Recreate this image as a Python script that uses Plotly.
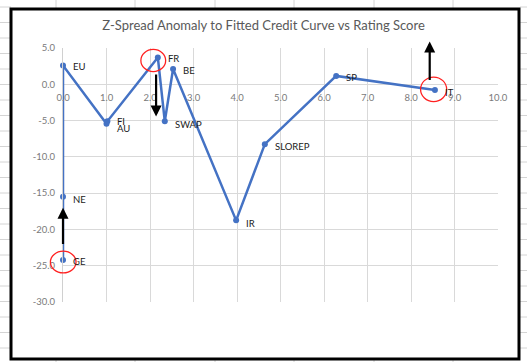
import plotly.graph_objects as go

# ---- data ----
names = ["GE", "NE", "EU", "AU", "FI", "FR", "SWAP", "BE", "IR", "SLOREP", "SP", "IT"]
rating_score = [0.0, 0.0, 0.0, 1.0, 1.02, 2.18, 2.34, 2.53, 3.98, 4.64, 6.28, 8.55]
z_anomaly = [-24.2, -15.5, 2.6, -5.45, -5.1, 3.7, -5.1, 2.1, -18.75, -8.25, 1.15, -0.8]
label_yshift = [-2, -3, -1, -5, 0, -1, -3, -1, -3, -2, -2, -2]

x_ticks = [0, 1, 2, 3, 4, 5, 6, 7, 8, 9, 10]
x_ticktext = ["0.0", "1.0", "2.0", "3.0", "4.0", "5.0", "6.0", "7.0", "8.0", "9.0", "10.0"]
y_ticks = [5, 0, -5, -10, -15, -20, -25, -30]
y_ticktext = ["5.0", "0.0", "-5.0", "-10.0", "-15.0", "-20.0", "-25.0", "-30.0"]

# arrows: (x, tail_y, head_y)
arrows = [(2.14, 1.55, -4.45), (8.43, 0.4, 5.9), (0.0, -22.2, -17.0)]
# red ellipses: (x0, x1, y0, y1) in data units
circles = [(1.79, 2.36, 1.75, 4.8), (8.22, 8.82, -2.4, 1.0), (-0.29, 0.30, -26.0, -23.0)]

X_RANGE = [0, 10]
Y_RANGE = [-30, 5]

W, H = 527, 362
ML, MR, MT, MB = 63, 29, 48, 60
PW, PH = W - ML - MR, H - MT - MB


def px(xp):
    return (xp - ML) / PW


def py(yp):
    return (H - MB - yp) / PH


def dx(v):
    return (v - X_RANGE[0]) / (X_RANGE[1] - X_RANGE[0])


def dy(v):
    return (v - Y_RANGE[0]) / (Y_RANGE[1] - Y_RANGE[0])


FONT = "Lato, 'Open Sans', sans-serif"

fig = go.Figure()
fig.add_trace(go.Scatter(
    x=rating_score, y=z_anomaly, mode="lines+markers",
    line=dict(color="#4472C4", width=2.5),
    marker=dict(color="#4472C4", size=6),
    cliponaxis=False, showlegend=False, hoverinfo="skip",
))

annotations = []
for n, xv, yv, ys in zip(names, rating_score, z_anomaly, label_yshift):
    annotations.append(dict(x=xv, y=yv, text=n, showarrow=False, xanchor="left",
                            xshift=8, yshift=ys,
                            font=dict(family=FONT, size=9.5, color="#1a1a1a")))
for ax_, ty, hy in arrows:
    annotations.append(dict(x=ax_, y=hy, ax=ax_, ay=ty, xref="x", yref="y",
                            axref="x", ayref="y", text="", showarrow=True,
                            arrowhead=2, arrowsize=1, arrowwidth=2.2, arrowcolor="black"))

shapes = []
for x0, x1, y0, y1 in circles:
    shapes.append(dict(type="circle", xref="paper", yref="paper",
                       x0=dx(x0), x1=dx(x1), y0=dy(y0), y1=dy(y1),
                       line=dict(color="#ff2020", width=1.3)))

# spreadsheet cell grid around the chart
grid_col = "#d4d4d4"
for xc in [56, 135, 215, 294, 374, 453]:
    shapes.append(dict(type="line", xref="paper", yref="paper", x0=px(xc), x1=px(xc),
                       y0=py(0), y1=py(8), line=dict(color=grid_col, width=1), layer="below"))
    shapes.append(dict(type="line", xref="paper", yref="paper", x0=px(xc), x1=px(xc),
                       y0=py(359), y1=py(362), line=dict(color=grid_col, width=1), layer="below"))
for k in range(24):
    yr = 7 + 15.5 * k
    shapes.append(dict(type="line", xref="paper", yref="paper", x0=px(0), x1=px(11),
                       y0=py(yr), y1=py(yr), line=dict(color=grid_col, width=1), layer="below"))
    shapes.append(dict(type="line", xref="paper", yref="paper", x0=px(520), x1=px(527),
                       y0=py(yr), y1=py(yr), line=dict(color=grid_col, width=1), layer="below"))
# chart border
shapes.append(dict(type="rect", xref="paper", yref="paper", x0=px(11), x1=px(519),
                   y0=py(359), y1=py(9), line=dict(color="black", width=3),
                   fillcolor="rgba(0,0,0,0)", layer="below"))

fig.update_layout(
    width=W, height=H,
    margin=dict(l=ML, r=MR, t=MT, b=MB),
    paper_bgcolor="white", plot_bgcolor="white",
    title=dict(text="Z-Spread Anomaly to Fitted Credit Curve vs Rating Score",
               x=0.5, xanchor="center", y=1 - 25 / H, yanchor="middle",
               font=dict(family=FONT, size=13, color="#595959")),
    xaxis=dict(range=X_RANGE, tickvals=x_ticks, ticktext=x_ticktext,
               showgrid=True, gridcolor="#d9d9d9", gridwidth=1, zeroline=False,
               showline=False, ticks="outside", ticklen=4, tickcolor="rgba(0,0,0,0)",
               anchor="free", position=dy(0),
               tickfont=dict(family=FONT, size=9.5, color="#7a7a7a")),
    yaxis=dict(range=Y_RANGE, tickvals=y_ticks, ticktext=y_ticktext,
               showgrid=True, gridcolor="#d9d9d9", gridwidth=1, zeroline=False,
               showline=True, linecolor="#d0d0d0", linewidth=1,
               ticks="outside", ticklen=5, tickcolor="rgba(0,0,0,0)",
               tickfont=dict(family=FONT, size=9.5, color="#7a7a7a")),
    annotations=annotations, shapes=shapes,
)

fig.write_html("out.html", config={"displayModeBar": False},
               post_script="document.body.style.margin='0';document.body.style.overflow='hidden';")
